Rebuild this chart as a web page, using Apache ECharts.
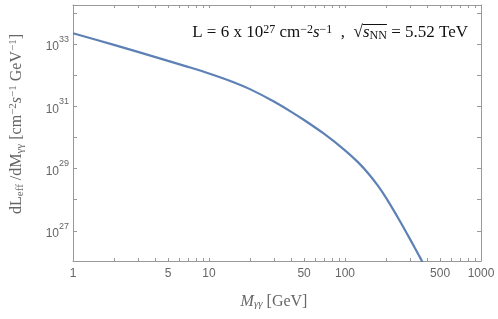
<!DOCTYPE html>
<html>
<head>
<meta charset="utf-8">
<script src="https://cdn.jsdelivr.net/npm/echarts@6/dist/echarts.min.js"></script>
<style>html,body{margin:0;padding:0;background:#fff}#c{width:498px;height:319px}</style>
</head>
<body>
<div id="c"></div>
<script>
// Invariant mass M_γγ [GeV]
var massGeV = [1, 2, 3, 5, 7, 10, 15, 20, 30, 40, 50, 70, 100, 125, 150, 175, 200, 250, 300, 350, 370, 375];
// dL_eff/dM_γγ [cm^-2 s^-1 GeV^-1]
var lumi = [2.20e33, 9.33e32, 5.57e32, 2.86e32, 1.84e32, 1.13e32, 6.03e31, 3.54e31, 1.42e31, 6.73e30,
            3.60e30, 1.31e30, 3.83e29, 1.57e29, 6.55e28, 2.76e28, 1.16e28, 2.27e27, 5.50e26, 1.60e26,
            1.02e26, 9.2e25];
// axis ticks
var xTickValues = [1,2,3,4,5,6,7,8,9,10,20,30,40,50,60,70,80,90,100,200,300,400,500,600,700,800,900,1000];
var xTickLabels = [1, 5, 10, 50, 100, 500, 1000];
var yTickExponents = [27, 28, 29, 30, 31, 32, 33, 34];
var yLabelExponents = [27, 29, 31, 33];

var chart = echarts.init(document.getElementById('c'), null, {renderer: 'canvas'});
var gray = '#999999';
var labelColor = '#666666';
var serif = '"Liberation Serif", "DejaVu Serif", serif';
var sans = '"Liberation Sans", Arial, sans-serif';

var xLog = xTickValues.map(function (v) { return Math.log10(v); });
var xLabLog = xTickLabels.map(function (v) { return Math.log10(v); });

function fmtX(v) { return String(Math.round(Math.pow(10, v))); }
function fmtY(v) { return '{b|10}{s|' + Math.round(v) + '}'; }

function xTickAxis(pos, labels) {
  return {
    type: 'value', min: 0, max: 3, position: pos,
    axisLine: {show: true, lineStyle: {color: gray, width: 1}},
    axisTick: {show: true, inside: true, length: 3, customValues: xLog, lineStyle: {color: gray}},
    axisLabel: labels ? {show: true, customValues: xLabLog, formatter: fmtX, color: labelColor,
      fontFamily: sans, fontSize: 12, margin: 7} : {show: false},
    splitLine: {show: false}
  };
}
function yTickAxis(pos, labels) {
  return {
    type: 'value', min: 26.03, max: 34.25, position: pos,
    axisLine: {show: true, lineStyle: {color: gray, width: 1}},
    axisTick: {show: true, inside: true, length: 4, customValues: yTickExponents, lineStyle: {color: gray}},
    axisLabel: labels ? {show: true, customValues: yLabelExponents, formatter: fmtY, margin: 4,
      rich: {
        b: {fontFamily: sans, fontSize: 12, color: labelColor, verticalAlign: 'bottom', lineHeight: 18},
        s: {fontFamily: sans, fontSize: 9, color: labelColor, verticalAlign: 'top', lineHeight: 18, padding: [0,0,4,0]}
      }} : {show: false},
    splitLine: {show: false}
  };
}

var xt = xTickAxis('bottom', true);
xt.name = '{it|M}{sub|γγ} [GeV]';
xt.nameLocation = 'middle';
xt.nameGap = 33;
xt.nameTextStyle = {
  fontFamily: serif, fontSize: 16, color: labelColor, padding: [0, 6, 0, 0],
  rich: {
    it: {fontFamily: serif, fontSize: 16, fontStyle: 'italic', color: labelColor},
    sub: {fontFamily: serif, fontSize: 11, fontStyle: 'italic', color: labelColor, verticalAlign: 'bottom', padding: [5,0,0,0]}
  }
};
var yt = yTickAxis('left', true);
yt.name = 'dL{sub|eff} /dM{sub|γγ} [cm{sup|−2}{it|s}{sup|−1} GeV{sup|−1}]';
yt.nameLocation = 'middle';
yt.nameGap = 47;
yt.nameTextStyle = {
  fontFamily: serif, fontSize: 16, color: labelColor, padding: [0, 0, 0, 18],
  rich: {
    it: {fontFamily: serif, fontSize: 16, fontStyle: 'italic', color: labelColor},
    sub: {fontFamily: serif, fontSize: 11, color: labelColor, verticalAlign: 'bottom', padding: [5,0,0,0]},
    sup: {fontFamily: serif, fontSize: 11, color: labelColor, verticalAlign: 'top', padding: [0,0,7,0]}
  }
};

// measure annotation pieces to place the square-root bar
var titleRightEdge = 468;
var annFont = 17, annSmall = 12;
var mctx = document.createElement('canvas').getContext('2d');
function tw(txt, font) { mctx.font = font; return mctx.measureText(txt).width; }
var tailW = tw(' = 5.52 TeV', annFont + 'px ' + serif);
var nnW = tw('NN', annSmall + 'px ' + serif);
var sW = tw('s', 'italic ' + annFont + 'px ' + serif);
var barX2 = titleRightEdge - tailW;
var barX1 = barX2 - nnW - sW - 0.5;

var option = {
  animation: false,
  backgroundColor: '#ffffff',
  grid: {left: 67, right: 17, top: 5, bottom: 58, containLabel: false},
  xAxis: [
    {type: 'log', min: 1, max: 1000, show: false},
    xt,
    xTickAxis('top', false)
  ],
  yAxis: [
    {type: 'log', min: Math.pow(10, 26.03), max: Math.pow(10, 34.25), show: false},
    yt,
    yTickAxis('right', false)
  ],
  title: {
    text: 'L = 6 x 10{sup|27} cm{sup|−2}{it|s}{sup|−1}  ,  √{it|s}{sub|NN} = 5.52 TeV',
    right: 498 - titleRightEdge - 5, top: 19,
    textStyle: {
      fontFamily: serif, fontSize: annFont, color: '#111', fontWeight: 'normal',
      rich: {
        sup: {fontFamily: serif, fontSize: annSmall, color: '#111', verticalAlign: 'top', padding: [0,0,6,0]},
        sub: {fontFamily: serif, fontSize: annSmall, color: '#111', verticalAlign: 'bottom', padding: [4,0,0,0]},
        it: {fontFamily: serif, fontSize: annFont, color: '#111', fontStyle: 'italic'}
      }
    }
  },
  graphic: [{
    type: 'line', silent: true,
    shape: {x1: barX1, y1: 24.5, x2: barX2, y2: 24.5},
    style: {stroke: '#111', lineWidth: 1}
  }],
  series: [{
    type: 'line',
    xAxisIndex: 0, yAxisIndex: 0,
    data: massGeV.map(function (m, i) { return [m, lumi[i]]; }),
    smooth: 0.25,
    showSymbol: false,
    clip: true,
    lineStyle: {color: '#5e81b5', width: 2.2},
    itemStyle: {color: '#5e81b5'}
  }]
};
chart.setOption(option);
</script>
</body>
</html>
